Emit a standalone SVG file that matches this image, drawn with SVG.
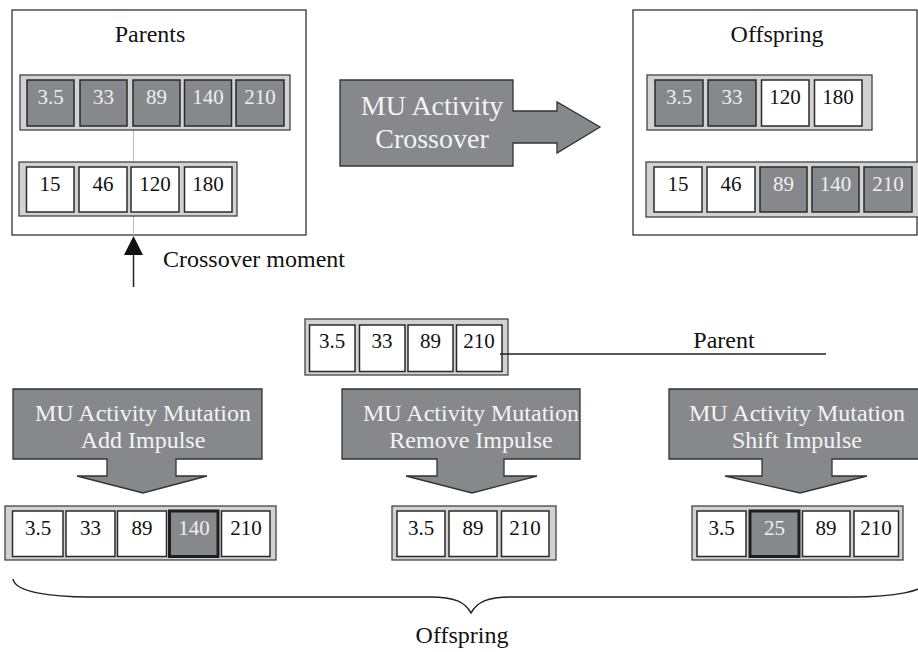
<svg xmlns="http://www.w3.org/2000/svg" width="918" height="652" viewBox="0 0 918 652">
<defs>
<style>
text{font-family:"Liberation Serif","Times New Roman",serif;}
.box{fill:#fff;stroke:#333;stroke-width:1.3;}
.strip{fill:#d2d2d2;stroke:#444;stroke-width:1.3;}
.cd{fill:#87888c;stroke:#2a2a2a;stroke-width:1.5;}
.cw{fill:#fff;stroke:#2a2a2a;stroke-width:1.5;}
.ch{fill:#87888c;stroke:#1e1e1e;stroke-width:3;}
.td{font-size:21px;fill:#eeeeee;text-anchor:middle;}
.tw{font-size:21px;fill:#111;text-anchor:middle;}
.lbl{font-size:24px;fill:#111;text-anchor:middle;}
.arrow{fill:#87888c;stroke:#333;stroke-width:1.3;}
.at{font-size:24px;fill:#f4f4f4;text-anchor:middle;}
.line{fill:none;stroke:#222;stroke-width:1.5;}
</style>
<marker id="ah" markerWidth="10" markerHeight="10" refX="5" refY="0" orient="auto" markerUnits="userSpaceOnUse"/>
</defs>

<g id="connectors">
<line x1="133.5" y1="130" x2="133.5" y2="235" stroke="#bbb" stroke-width="1"/>
</g>

<g id="parents">
<rect class="box" x="12" y="10" width="294" height="225"/>
<line x1="133.5" y1="130" x2="133.5" y2="235" stroke="#bbb" stroke-width="1"/>
<text class="lbl" x="150" y="42">Parents</text>
<rect class="strip" x="20" y="75" width="270" height="55"/>
<rect class="cd" x="27" y="80" width="47" height="46"/><text class="td" x="50.5" y="104">3.5</text>
<rect class="cd" x="80" y="80" width="47" height="46"/><text class="td" x="103.5" y="104">33</text>
<rect class="cd" x="133" y="80" width="47" height="46"/><text class="td" x="156.5" y="104">89</text>
<rect class="cd" x="184.5" y="80" width="47" height="46"/><text class="td" x="208" y="104">140</text>
<rect class="cd" x="236" y="80" width="48" height="46"/><text class="td" x="260" y="104">210</text>
<rect class="strip" x="19" y="162" width="218" height="54"/>
<rect class="cw" x="26.5" y="167" width="47.5" height="45"/><text class="tw" x="50" y="191">15</text>
<rect class="cw" x="79" y="167" width="48" height="45"/><text class="tw" x="103" y="191">46</text>
<rect class="cw" x="131" y="167" width="48" height="45"/><text class="tw" x="155" y="191">120</text>
<rect class="cw" x="184.5" y="167" width="47.5" height="45"/><text class="tw" x="208" y="191">180</text>
</g>

<g id="crossover-moment">
<line class="line" x1="133.5" y1="287" x2="133.5" y2="252"/>
<polygon points="133.5,236 124,255 143,255" fill="#111"/>
<text x="163" y="267" font-size="24" fill="#111">Crossover moment</text>
</g>

<g id="crossover">
<polygon class="arrow" points="340,80 513,80 513,111 557,111 557,102 600,127 557,153 557,143 513,143 513,166 340,166"/>
<text class="at" x="432" y="115" font-size="28" style="font-size:28px">MU Activity</text>
<text class="at" x="432" y="148" style="font-size:28px">Crossover</text>
</g>

<g id="offspring">
<rect class="box" x="633" y="10" width="284" height="225"/>
<text class="lbl" x="777" y="42">Offspring</text>
<rect class="strip" x="647" y="75" width="225" height="55"/>
<rect class="cd" x="655" y="80" width="48" height="46"/><text class="td" x="679" y="104">3.5</text>
<rect class="cd" x="708" y="80" width="48" height="46"/><text class="td" x="732" y="104">33</text>
<rect class="cw" x="761.5" y="80" width="47.5" height="46"/><text class="tw" x="785" y="104">120</text>
<rect class="cw" x="814.5" y="80" width="47.5" height="46"/><text class="tw" x="838" y="104">180</text>
<rect class="strip" x="646" y="162" width="276" height="55"/>
<rect class="cw" x="654" y="167" width="48" height="45"/><text class="tw" x="678" y="191">15</text>
<rect class="cw" x="707" y="167" width="48" height="45"/><text class="tw" x="731" y="191">46</text>
<rect class="cd" x="760" y="167" width="47" height="45"/><text class="td" x="783.5" y="191">89</text>
<rect class="cd" x="812" y="167" width="47" height="45"/><text class="td" x="835.5" y="191">140</text>
<rect class="cd" x="864" y="167" width="48" height="45"/><text class="td" x="888" y="191">210</text>
</g>

<g id="parent">
<rect class="strip" x="305" y="319" width="203" height="56"/>
<rect class="cw" x="309.5" y="325" width="45.5" height="46.5"/><text class="tw" x="332" y="348">3.5</text>
<rect class="cw" x="359.5" y="325" width="45.5" height="46.5"/><text class="tw" x="382" y="348">33</text>
<rect class="cw" x="408" y="325" width="45" height="46.5"/><text class="tw" x="430.5" y="348">89</text>
<rect class="cw" x="456.5" y="325" width="45.5" height="46.5"/><text class="tw" x="479" y="348">210</text>
</g>

<g id="parent-label">
<line class="line" x1="500" y1="354" x2="826" y2="354" stroke-width="1.2"/>
<text class="lbl" x="724" y="348">Parent</text>
</g>

<g id="mutation-add">
<polygon class="arrow" points="13,389 262,389 262,459 176,459 176,476 207,476 143,493 77,476 107,476 107,459 13,459"/>
<text class="at" x="143" y="421">MU Activity Mutation</text>
<text class="at" x="143" y="448">Add Impulse</text>
</g>

<g id="mutation-remove">
<polygon class="arrow" points="342,389 580,389 580,459 504,459 504,476 537,476 472,493 406,476 437,476 437,459 342,459"/>
<text class="at" x="471" y="421">MU Activity Mutation</text>
<text class="at" x="471" y="448">Remove Impulse</text>
</g>

<g id="mutation-shift">
<polygon class="arrow" points="669,389 931,389 931,459 832,459 832,476 867,476 800,493 725,476 762,476 762,459 669,459"/>
<text class="at" x="797" y="421">MU Activity Mutation</text>
<text class="at" x="797" y="448">Shift Impulse</text>
</g>

<g id="offspring-add">
<rect class="strip" x="5" y="506" width="271" height="54"/>
<rect class="cw" x="12.5" y="511" width="50.5" height="45.5"/><text class="tw" x="38" y="535">3.5</text>
<rect class="cw" x="66" y="511" width="49" height="45.5"/><text class="tw" x="90.5" y="535">33</text>
<rect class="cw" x="117.5" y="511" width="49" height="45.5"/><text class="tw" x="142" y="535">89</text>
<rect class="ch" x="169.5" y="511" width="48.5" height="45.5"/><text class="td" x="194" y="535">140</text>
<rect class="cw" x="221.5" y="511" width="48.5" height="45.5"/><text class="tw" x="246" y="535">210</text>
</g>

<g id="offspring-remove">
<rect class="strip" x="392" y="506" width="164" height="54"/>
<rect class="cw" x="397" y="511" width="48" height="45.5"/><text class="tw" x="421" y="535">3.5</text>
<rect class="cw" x="449" y="511" width="48" height="45.5"/><text class="tw" x="473" y="535">89</text>
<rect class="cw" x="501.5" y="511" width="47.5" height="45.5"/><text class="tw" x="525" y="535">210</text>
</g>

<g id="offspring-shift">
<rect class="strip" x="692" y="506" width="211" height="54"/>
<rect class="cw" x="697" y="511" width="49" height="45.5"/><text class="tw" x="721.5" y="535">3.5</text>
<rect class="ch" x="750" y="511" width="49" height="45.5"/><text class="td" x="774.5" y="535">25</text>
<rect class="cw" x="802.5" y="511" width="47.5" height="45.5"/><text class="tw" x="826" y="535">89</text>
<rect class="cw" x="854" y="511" width="44.5" height="45.5"/><text class="tw" x="876" y="535">210</text>
</g>

<g id="brace">
<path class="line" d="M13,579 C15,592 50,597 90,597 L430,597 C455,597 465,602 471,613 C477,602 487,597 512,597 L852,597 C892,597 927,592 929,579"/>
<text class="lbl" x="462" y="643">Offspring</text>
</g>
</svg>
